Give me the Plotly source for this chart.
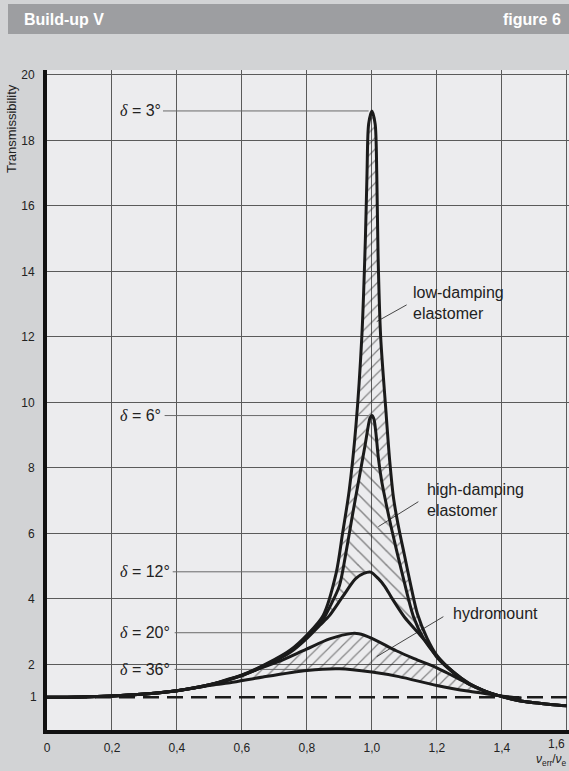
import plotly.graph_objects as go

# ---------------- data ----------------
# delta = 3 deg (outermost curve)
d3_x = [0, 0.1, 0.2, 0.3, 0.4, 0.5, 0.6, 0.7, 0.75, 0.8, 0.85, 0.89, 0.91, 0.93, 0.951, 0.969,
        0.98, 0.985, 0.99, 1.0, 1.01, 1.015, 1.019, 1.027, 1.042, 1.055, 1.067, 1.083, 1.1,
        1.12, 1.14, 1.17, 1.2, 1.25, 1.3, 1.35, 1.39, 1.45, 1.5, 1.55, 1.6]
d3_y = [1.0, 1.01, 1.04, 1.1, 1.2, 1.38, 1.68, 2.15, 2.45, 2.9, 3.5, 4.79, 6.02, 7.3, 9.3, 12.0,
        15.0, 17.0, 18.5, 18.9, 18.5, 17.0, 14.5, 12.0, 9.9, 8.2, 7.05, 6.15, 5.35,
        4.4, 3.55, 2.8, 2.28, 1.78, 1.42, 1.18, 1.05, 0.9, 0.83, 0.78, 0.74]

# delta = 6 deg
d6_x = [0, 0.1, 0.2, 0.3, 0.4, 0.5, 0.6, 0.7, 0.75, 0.8, 0.848, 0.87, 0.9, 0.92, 0.94, 0.96,
        0.98, 0.99, 0.994, 1.0, 1.006, 1.012, 1.02, 1.03, 1.042, 1.061, 1.093, 1.128, 1.16,
        1.2, 1.25, 1.3, 1.35, 1.39, 1.45, 1.5, 1.55, 1.6]
d6_y = [1.0, 1.01, 1.04, 1.1, 1.2, 1.38, 1.67, 2.13, 2.42, 2.85, 3.35, 3.75, 4.4, 5.4, 6.55, 7.65,
        8.75, 9.35, 9.52, 9.6, 9.5, 9.1, 8.3, 7.6, 7.0, 6.12, 4.79, 3.46, 2.78,
        2.25, 1.77, 1.41, 1.18, 1.05, 0.9, 0.83, 0.78, 0.74]

# delta = 12 deg
d12_x = [0, 0.1, 0.2, 0.3, 0.4, 0.5, 0.6, 0.7, 0.75, 0.8, 0.84, 0.87, 0.91, 0.95, 0.975, 0.996,
         1.02, 1.04, 1.06, 1.1, 1.144, 1.174, 1.2, 1.25, 1.3, 1.35, 1.39, 1.45, 1.5, 1.55, 1.6]
d12_y = [1.0, 1.01, 1.04, 1.1, 1.2, 1.37, 1.66, 2.1, 2.38, 2.8, 3.2, 3.5, 4.07, 4.62, 4.78, 4.82,
         4.62, 4.38, 4.05, 3.45, 2.95, 2.6, 2.22, 1.75, 1.39, 1.18, 1.05, 0.9, 0.83, 0.78, 0.74]

# delta = 20 deg (hydromount, upper)
d20_x = [0, 0.1, 0.2, 0.3, 0.4, 0.5, 0.56, 0.6, 0.665, 0.716, 0.797, 0.87, 0.94, 0.96, 1.0,
         1.075, 1.13, 1.2, 1.25, 1.3, 1.35, 1.39, 1.46]
d20_y = [1.0, 1.01, 1.04, 1.1, 1.2, 1.38, 1.56, 1.67, 1.92, 2.1, 2.46, 2.78, 2.95, 2.94, 2.8,
         2.42, 2.18, 1.9, 1.65, 1.4, 1.18, 1.05, 0.97]

# delta = 36 deg (hydromount, lower)
d36_x = [0, 0.1, 0.2, 0.3, 0.4, 0.5, 0.563, 0.665, 0.8, 0.9, 1.0, 1.083, 1.2, 1.3, 1.378,
         1.41, 1.46]
d36_y = [1.0, 1.01, 1.04, 1.1, 1.2, 1.36, 1.44, 1.62, 1.82, 1.87, 1.77, 1.63, 1.36, 1.18, 1.07,
         1.02, 0.98]

# reference line T = 1
ref_x = [0, 1.61]
ref_y = [1, 1]

# peak labels
peak_labels = ["3°", "6°", "12°", "20°", "36°"]
peak_label_y = [18.9, 9.6, 4.83, 2.97, 1.85]
peak_lead_x0 = [0.357, 0.362, 0.387, 0.393, 0.393]
peak_lead_x1 = [0.99, 0.99, 0.985, 0.94, 0.88]
peak_label_x = 0.2185

# region labels
region_labels = ["low-damping<br>elastomer", "high-damping<br>elastomer", "hydromount"]
region_label_x = [1.12, 1.163, 1.245]
region_label_y = [13.05, 7.03, 3.56]
region_lead_x0 = [1.107, 1.143, 1.22]
region_lead_y0 = [12.98, 6.97, 3.46]
region_lead_x1 = [1.015, 1.02, 1.015]
region_lead_y1 = [12.47, 6.21, 2.24]

# axis ticks
x_ticks = [0, 0.2, 0.4, 0.6, 0.8, 1.0, 1.2, 1.4]
x_ticktext = ["0", "0,2", "0,4", "0,6", "0,8", "1,0", "1,2", "1,4"]
x_last_tick = 1.6
x_last_label = "1,6"
y_ticks = [2, 4, 6, 8, 10, 12, 14, 16, 18, 20]
y_ticktext = ["2", "4", "6", "8", "10", "12", "14", "16", "18", "20"]

# ---------------- figure ----------------
W, H = 569, 771
ML, MR, MT, MB = 47, 0, 70, 41
PW, PH = W - ML - MR, H - MT - MB

def px_to_paper_x(px):
    return (px - ML) / PW

def px_to_paper_y(py):
    return 1 - (py - MT) / PH

FONT = "Liberation Sans, Arial, Helvetica, sans-serif"
CURVE = "#1b1b1b"
SM = 0.8

fig = go.Figure()

# hatched regions
regions = [
    (d3_x, d3_y, d6_x, d6_y, "/", 8),
    (d6_x, d6_y, d12_x, d12_y, "\\", 10),
    (d20_x, d20_y, d36_x, d36_y, "/", 8),
]
for xa, ya, xb, yb, shp, sz in regions:
    fig.add_trace(go.Scatter(
        x=list(xa) + list(xb)[::-1], y=list(ya) + list(yb)[::-1],
        mode="lines", fill="toself",
        line=dict(width=0, shape="spline", smoothing=SM),
        fillcolor="rgba(0,0,0,0)",
        fillpattern=dict(shape=shp, size=sz, solidity=0.15, fgcolor="#1e1e1e",
                         bgcolor="rgba(0,0,0,0)"),
        hoverinfo="skip", showlegend=False))

# peak leader lines
for y, x0, x1 in zip(peak_label_y, peak_lead_x0, peak_lead_x1):
    fig.add_trace(go.Scatter(x=[x0, x1], y=[y, y], mode="lines",
                             line=dict(color="#6a6a6a", width=1),
                             hoverinfo="skip", showlegend=False))

# region leader lines
for x0, y0, x1, y1 in zip(region_lead_x0, region_lead_y0, region_lead_x1, region_lead_y1):
    fig.add_trace(go.Scatter(x=[x0, x1], y=[y0, y1], mode="lines",
                             line=dict(color="#333333", width=0.9),
                             hoverinfo="skip", showlegend=False))

# reference dashed line
fig.add_trace(go.Scatter(x=ref_x, y=ref_y, mode="lines",
                         line=dict(color=CURVE, width=2.5, dash="16px,8px"),
                         hoverinfo="skip", showlegend=False))

# curves
for xs, ys in [(d36_x, d36_y), (d20_x, d20_y), (d12_x, d12_y), (d6_x, d6_y), (d3_x, d3_y)]:
    fig.add_trace(go.Scatter(x=xs, y=ys, mode="lines",
                             line=dict(color=CURVE, width=3, shape="spline", smoothing=SM),
                             hoverinfo="skip", showlegend=False))

annotations = []
# peak labels
for lab, y in zip(peak_labels, peak_label_y):
    annotations.append(dict(
        x=peak_label_x, y=y, xref="x", yref="y", xanchor="left", yanchor="middle",
        text="<span style=\"font-family:Liberation Serif\"><i>δ</i></span> = " + lab,
        showarrow=False, font=dict(family=FONT, size=16, color="#222")))
# region labels
for lab, x, y in zip(region_labels, region_label_x, region_label_y):
    annotations.append(dict(
        x=x, y=y, xref="x", yref="y", xanchor="left", yanchor="middle", align="left",
        text=lab, showarrow=False, font=dict(family=FONT, size=16, color="#222")))

# y tick "1" and x tick "1,6"
annotations.append(dict(x=px_to_paper_x(39), y=1, xref="paper", yref="y", xanchor="right",
                        yanchor="middle", text="1", showarrow=False,
                        font=dict(family=FONT, size=12, color="#222")))
annotations.append(dict(x=px_to_paper_x(567), y=px_to_paper_y(744), xref="paper", yref="paper",
                        xanchor="right", yanchor="middle", text=x_last_label, showarrow=False,
                        font=dict(family=FONT, size=12, color="#222")))
# x-axis title
annotations.append(dict(x=1.0, y=px_to_paper_y(760), xref="paper", yref="paper",
                        xanchor="right", yanchor="middle",
                        text="<i>ν</i><sub>err</sub>/<i>ν</i><sub>e</sub>",
                        showarrow=False, font=dict(family=FONT, size=12, color="#222")))
# y-axis title
annotations.append(dict(x=px_to_paper_x(12), y=px_to_paper_y(129), xref="paper", yref="paper",
                        xanchor="center", yanchor="middle", textangle=-90,
                        text="Transmissibility", showarrow=False,
                        font=dict(family=FONT, size=13, color="#222")))
# header
annotations.append(dict(x=px_to_paper_x(22), y=px_to_paper_y(19), xref="paper", yref="paper",
                        xanchor="left", yanchor="middle", text="<b>Build-up V</b>",
                        showarrow=False, font=dict(family=FONT, size=16, color="white")))
annotations.append(dict(x=px_to_paper_x(563), y=px_to_paper_y(19), xref="paper", yref="paper",
                        xanchor="right", yanchor="middle", text="<b>figure 6</b>",
                        showarrow=False, font=dict(family=FONT, size=16, color="white")))

shapes = [dict(type="rect", xref="paper", yref="paper",
               x0=px_to_paper_x(8), x1=px_to_paper_x(W + 2),
               y0=px_to_paper_y(34), y1=px_to_paper_y(4),
               fillcolor="#9d9ea1", line=dict(width=0), layer="below")]

fig.update_layout(
    width=W, height=H,
    margin=dict(l=ML, r=MR, t=MT, b=MB, pad=0),
    paper_bgcolor="#d2d3d5", plot_bgcolor="#ececee",
    showlegend=False,
    font=dict(family=FONT, size=12, color="#222"),
    xaxis=dict(range=[0, 1.6067], tickmode="array", tickvals=x_ticks, ticktext=x_ticktext,
               showgrid=True, gridcolor="#5a5a5a", gridwidth=1, zeroline=False,
               showline=True, linewidth=4, linecolor="#111", ticks="",
               minor=dict(tickvals=[x_last_tick], showgrid=True, gridcolor="#5a5a5a",
                          gridwidth=1, ticks=""),
               ticklabelstandoff=4, tickfont=dict(size=12, color="#222"), fixedrange=True),
    yaxis=dict(range=[0, 20.15], tickmode="array", tickvals=y_ticks, ticktext=y_ticktext,
               showgrid=True, gridcolor="#5a5a5a", gridwidth=1, zeroline=False,
               showline=True, linewidth=4, linecolor="#111", ticks="",
               ticklabelstandoff=6, tickfont=dict(size=12, color="#222"), fixedrange=True),
    annotations=annotations, shapes=shapes,
)

fig.write_html("out.html", config={"displayModeBar": False},
               post_script="document.body.style.margin='0';document.body.style.overflow='hidden';")
